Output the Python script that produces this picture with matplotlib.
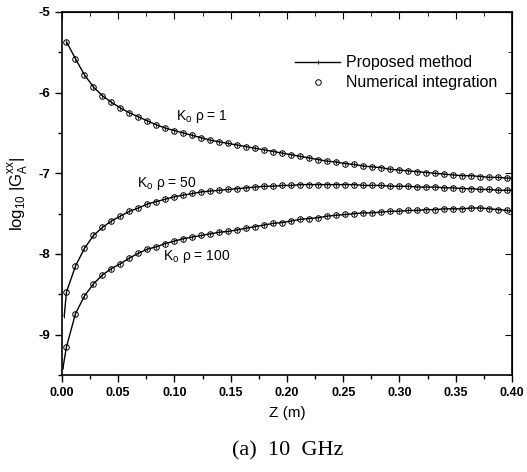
import matplotlib
matplotlib.use("Agg")
import matplotlib.pyplot as plt

plt.rcParams["font.family"] = ["Liberation Sans", "DejaVu Sans"]
plt.rcParams["mathtext.fontset"] = "custom"
plt.rcParams["mathtext.rm"] = "Liberation Sans"

# sample positions of the numerical-integration circles (m)
z_num = [0.004, 0.012, 0.020, 0.028, 0.036, 0.044, 0.052, 0.060, 0.068, 0.076,
         0.084, 0.092, 0.100, 0.108, 0.116, 0.124, 0.132, 0.140, 0.148, 0.156,
         0.164, 0.172, 0.180, 0.188, 0.196, 0.204, 0.212, 0.220, 0.228, 0.236,
         0.244, 0.252, 0.260, 0.268, 0.276, 0.284, 0.292, 0.300, 0.308, 0.316,
         0.324, 0.332, 0.340, 0.348, 0.356, 0.364, 0.372, 0.380, 0.388, 0.396]

# log10 |G_A^xx| for K0*rho = 1, 50, 100
g_kp1 = [-5.37, -5.58, -5.78, -5.93, -6.04, -6.12, -6.19, -6.25, -6.30, -6.35,
         -6.40, -6.44, -6.47, -6.50, -6.53, -6.56, -6.59, -6.61, -6.63, -6.65,
         -6.67, -6.69, -6.71, -6.73, -6.75, -6.77, -6.79, -6.81, -6.83, -6.85,
         -6.86, -6.88, -6.89, -6.91, -6.92, -6.93, -6.95, -6.96, -6.97, -6.98,
         -6.99, -7.00, -7.01, -7.02, -7.03, -7.03, -7.04, -7.05, -7.05, -7.06]
g_kp50 = [-8.47, -8.15, -7.93, -7.77, -7.67, -7.59, -7.53, -7.47, -7.43, -7.38,
          -7.35, -7.32, -7.29, -7.27, -7.25, -7.23, -7.22, -7.21, -7.20, -7.19,
          -7.18, -7.17, -7.16, -7.16, -7.15, -7.15, -7.14, -7.14, -7.14, -7.14,
          -7.14, -7.14, -7.14, -7.15, -7.15, -7.15, -7.16, -7.16, -7.16, -7.17,
          -7.17, -7.17, -7.18, -7.18, -7.19, -7.19, -7.20, -7.20, -7.21, -7.21]
g_kp100 = [-9.15, -8.74, -8.52, -8.37, -8.26, -8.18, -8.12, -8.05, -7.99, -7.94,
           -7.91, -7.87, -7.84, -7.81, -7.79, -7.77, -7.75, -7.73, -7.72, -7.70,
           -7.68, -7.66, -7.64, -7.62, -7.61, -7.59, -7.57, -7.56, -7.55, -7.53,
           -7.52, -7.51, -7.50, -7.49, -7.49, -7.48, -7.47, -7.47, -7.46, -7.46,
           -7.45, -7.45, -7.44, -7.44, -7.44, -7.43, -7.43, -7.44, -7.45, -7.46]

# proposed-method line: extra start / end points beyond the circles
z_start = {"1": 0.004, "50": 0.002, "100": 0.001}
g_start = {"1": -5.37, "50": -8.77, "100": -9.40}
g_end = {"1": -7.06, "50": -7.21, "100": -7.47}

labels = {"1": (0.101, -6.30), "50": (0.067, -7.12), "100": (0.090, -8.03)}

fig = plt.figure(figsize=(5.27, 4.72), dpi=100)
ax = fig.add_axes([0.1176, 0.2055, 0.8539, 0.7691])

series = [("1", g_kp1), ("50", g_kp50), ("100", g_kp100)]
for i, (key, g) in enumerate(series):
    zl = [z_start[key]] + z_num + [0.40]
    gl = [g_start[key]] + g + [g_end[key]]
    ax.plot(zl, gl, color="black", lw=1.0, marker="|", ms=3, mew=0.6,
            label="Proposed method" if i == 0 else None)
    ax.plot(z_num, g, ls="none", marker="o", ms=4, mfc="none", mec="black",
            mew=0.7, label="Numerical integration" if i == 0 else None)
    lx, ly = labels[key]
    ax.text(lx, ly, r"K$_\mathregular{o}$ ρ = " + key, fontsize=10,
            va="center", ha="left")

ax.set_xlim(0, 0.40)
ax.set_ylim(-9.5, -5)
ax.set_xticks([0.00, 0.05, 0.10, 0.15, 0.20, 0.25, 0.30, 0.35, 0.40])
ax.set_xticks([0.025 + 0.05 * k for k in range(8)], minor=True)
ax.set_yticks([-9, -8, -7, -6, -5])
ax.set_yticks([-9.5, -8.5, -7.5, -6.5, -5.5], minor=True)
ax.set_xticklabels(["0.00", "0.05", "0.10", "0.15", "0.20", "0.25", "0.30", "0.35", "0.40"],
                   fontweight="bold", fontsize=9)
ax.set_yticklabels(["-9", "-8", "-7", "-6", "-5"], fontweight="bold", fontsize=9.5)
ax.tick_params(which="major", direction="out", length=5, width=1)
ax.tick_params(which="minor", direction="out", length=3, width=1)
for s in ax.spines.values():
    s.set_linewidth(1.2)

# inward ticks on the top and right edges
top = ax.secondary_xaxis("top")
top.set_xticks(ax.get_xticks())
top.set_xticks(ax.get_xticks(minor=True), minor=True)
top.tick_params(which="both", direction="in", labeltop=False)
top.tick_params(which="major", length=5)
top.tick_params(which="minor", length=3)
right = ax.secondary_yaxis("right")
right.set_yticks(ax.get_yticks())
right.set_yticks(ax.get_yticks(minor=True), minor=True)
right.tick_params(which="both", direction="in", labelright=False)
right.tick_params(which="major", length=5)
right.tick_params(which="minor", length=3)

ax.set_xlabel("Z (m)", fontsize=11, labelpad=5)
ax.set_ylabel(r"log$_\mathregular{10}$ |G$_\mathregular{A}^\mathregular{xx}$|", fontsize=12, labelpad=6)

ax.legend(loc="upper right", bbox_to_anchor=(1.0, 0.92), frameon=False, fontsize=11.5,
          handlelength=2.8, handletextpad=0.4, labelspacing=0.3)

fig.text(0.545, 0.045, "(a)  10  GHz", family="Liberation Serif", fontsize=16,
         ha="center", va="center")

fig.savefig("out.png", dpi=100)
